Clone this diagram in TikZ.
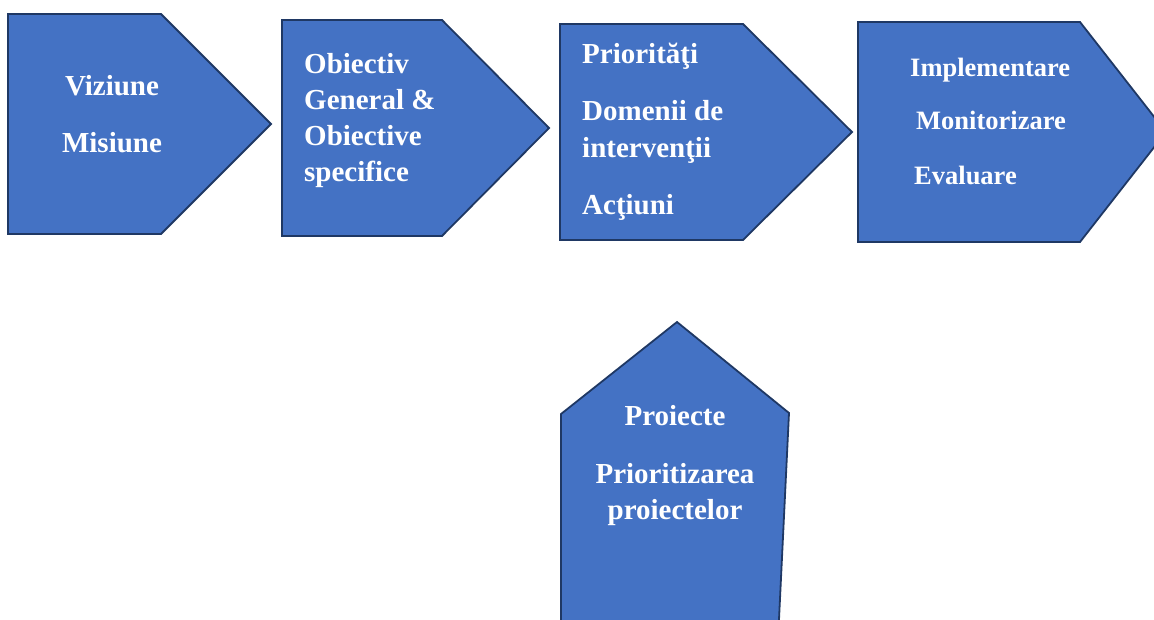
\documentclass[tikz,border=0pt]{standalone}
\usepackage{fontspec}
\setmainfont{Liberation Serif}
\begin{document}
\begin{tikzpicture}[x=1pt,y=-1pt,
  arrowshape/.style={fill=boxblue,draw=boxborder,line width=1.8pt,line join=miter},
  lbl/.style={text=white,font=\bfseries\fontsize{29}{34}\selectfont,inner sep=0pt,anchor=base west},
  lblc/.style={lbl,anchor=base},
  lbls/.style={lbl,font=\bfseries\fontsize{26.5}{31}\selectfont}]
\definecolor{boxblue}{HTML}{4472C4}
\definecolor{boxborder}{HTML}{1F3864}
\useasboundingbox (0,0) rectangle (1154,619);
\clip (0,0) rectangle (1154,619);
% shape 1
\draw[arrowshape] (8,14) -- (161,14) -- (271,124) -- (161,234) -- (8,234) -- cycle;
% shape 2
\draw[arrowshape] (282,20) -- (442,20) -- (549,128) -- (442,236) -- (282,236) -- cycle;
% shape 3
\draw[arrowshape] (560,24) -- (743,24) -- (852,132) -- (743,240) -- (560,240) -- cycle;
% shape 4
\draw[arrowshape] (858,22) -- (1080,22) -- (1166,132) -- (1080,242) -- (858,242) -- cycle;
% shape 5
\draw[arrowshape] (561,640) -- (561,414) -- (677,322) -- (789,413) -- (778,640) -- cycle;
% texts
\node[lblc] (viz) at (112,95) {Viziune};
\node[lblc] (mis) at (112,152) {Misiune};
\node[lbl] (ob1) at (304,73) {Obiectiv};
\node[lbl] (ob2) at (304,109) {General \&};
\node[lbl] (ob3) at (304,145) {Obiective};
\node[lbl] (ob4) at (304,181) {specifice};
\node[lbl] (pr1) at (582,63) {Priorităţi};
\node[lbl] (pr2) at (582,120) {Domenii de};
\node[lbl] (pr3) at (582,157) {intervenţii};
\node[lbl] (pr4) at (582,214) {Acţiuni};
\node[lbls] (im1) at (910,76) {Implementare};
\node[lbls] (im2) at (916,129) {Monitorizare};
\node[lbls] (im3) at (914,184) {Evaluare};
\node[lblc] (pj1) at (675,425) {Proiecte};
\node[lblc] (pj2) at (675,483) {Prioritizarea};
\node[lblc] (pj3) at (675,519) {proiectelor};
\end{tikzpicture}
\end{document}
